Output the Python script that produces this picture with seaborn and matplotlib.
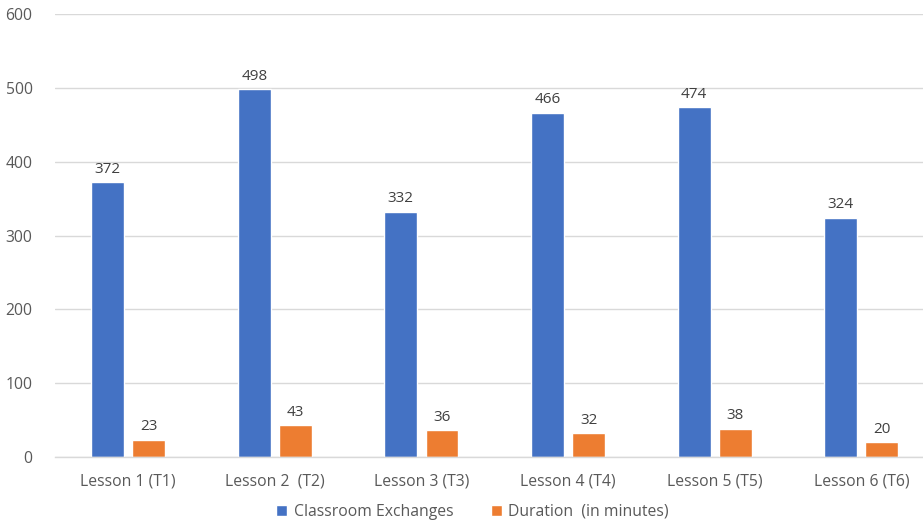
import matplotlib
matplotlib.use("Agg")
import matplotlib.pyplot as plt
import seaborn as sns
import pandas as pd

categories = ["Lesson 1 (T1)", "Lesson 2  (T2)", "Lesson 3 (T3)", "Lesson 4 (T4)", "Lesson 5 (T5)", "Lesson 6 (T6)"]
exchanges = [372, 498, 332, 466, 474, 324]
duration = [23, 43, 36, 32, 38, 20]
series_names = ["Classroom Exchanges", "Duration  (in minutes)"]
y_ticks = [0, 100, 200, 300, 400, 500, 600]

df = pd.DataFrame({
    "Lesson": categories * 2,
    "Value": exchanges + duration,
    "Series": [series_names[0]] * len(categories) + [series_names[1]] * len(categories),
})

sns.set_theme(style="white")
plt.rcParams["font.family"] = ["Open Sans", "DejaVu Sans"]

fig = plt.figure(figsize=(9.23, 5.21), dpi=100)
ax = fig.add_axes([0.0593, 0.1228, 0.9534, 0.8502])

palette = {series_names[0]: "#4472C4", series_names[1]: "#ED7D31"}
sns.barplot(data=df, x="Lesson", y="Value", hue="Series", palette=palette,
            width=0.56, gap=0.2, ax=ax, legend=True, saturation=1)

for cont in ax.containers:
    ax.bar_label(cont, padding=4, fontsize=11, color="#404040")

ax.set_ylim(0, 600)
ax.set_yticks(y_ticks)
ax.set_xlim(-0.5, len(categories) - 0.5)
ax.yaxis.grid(True, color="#D9D9D9", linewidth=1)
ax.set_axisbelow(True)
for s in ["left", "right", "top"]:
    ax.spines[s].set_visible(False)
ax.spines["bottom"].set_color("#D9D9D9")
ax.spines["bottom"].set_linewidth(1)
ax.tick_params(axis="both", length=0, labelsize=11.3, labelcolor="#595959")
ax.tick_params(axis="y", pad=16)
ax.tick_params(axis="x", pad=12)
ax.set_xlabel("")
ax.set_ylabel("")

handles, labels = ax.get_legend_handles_labels()
ax.get_legend().remove()
leg = fig.legend(handles, labels, loc="lower center", bbox_to_anchor=(0.512, -0.025), ncol=2,
                 frameon=False, fontsize=11.3, handlelength=0.7, handleheight=0.7,
                 handletextpad=0.4, columnspacing=2.4)
for t in leg.get_texts():
    t.set_color("#595959")

fig.savefig("out.png", dpi=100)
